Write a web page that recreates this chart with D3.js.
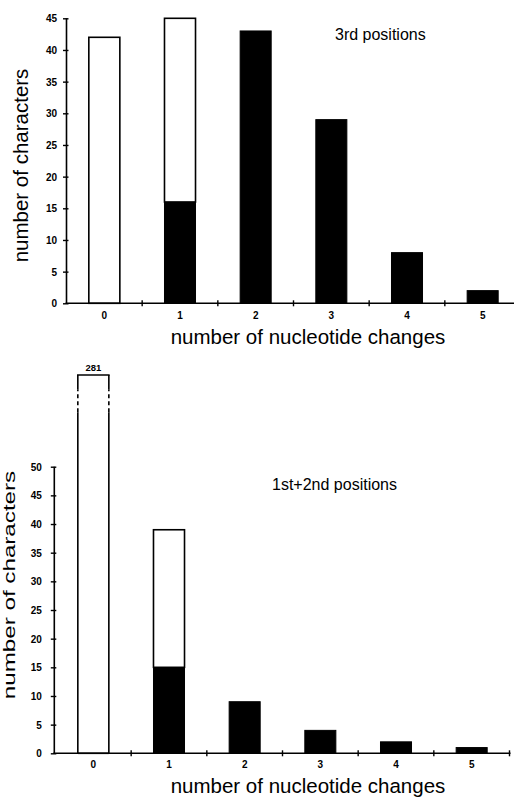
<!DOCTYPE html>
<html>
<head>
<meta charset="utf-8">
<script src="https://cdn.jsdelivr.net/npm/d3@7"></script>
<style>
html,body{margin:0;padding:0;background:#fff;}
svg{display:block;}
text{font-family:"Liberation Sans",Arial,Helvetica,sans-serif;fill:#000;}
.tick text{font-weight:bold;font-size:10px;}
</style>
</head>
<body>
<script>
// ---- data ----
const categories = ["0","1","2","3","4","5"];
const thirdBlack = [0,16,43,29,8,2];
const thirdWhite = [42,29,0,0,0,0];
const thirdTicks = [0,5,10,15,20,25,30,35,40,45];

const firstSecondBlack = [0,15,9,4,2,1];
const firstSecondWhite = [281,24,0,0,0,0];
const firstSecondTicks = [0,5,10,15,20,25,30,35,40,45,50];
// broken bar: shown up to 66 on the axis, with a break between 59.5 and 63.5
const brokenShownTop = 66;
const breakLow = 59.5, breakHigh = 63.5;

const panelTitles = ["3rd positions","1st+2nd positions"];
const xTitle = "number of nucleotide changes";
const yTitle = "number of characters";

const W = 514, H = 799;
const svg = d3.select("body").append("svg").attr("width",W).attr("height",H);

function panel(cfg){
  const g = svg.append("g");
  const x = d3.scaleBand().domain(categories).range(cfg.xRange).padding(0);
  const y = d3.scaleLinear().domain(cfg.yDomain).range(cfg.yRange);
  const bw = x.bandwidth()*0.41;
  const bx = d => x(d) + (x.bandwidth()-bw)/2;

  // bars
  categories.forEach((c,i)=>{
    const b = cfg.black[i], w = cfg.white[i];
    const isBroken = cfg.broken && w > cfg.yDomain[1];
    if (b > 0){
      g.append("rect").attr("x",bx(c)).attr("width",bw)
        .attr("y",y(b)).attr("height",y(0)-y(b))
        .attr("fill","#000").attr("stroke","#000").attr("stroke-width",1);
    }
    if (w > 0 && !isBroken){
      g.append("rect").attr("x",bx(c)).attr("width",bw)
        .attr("y",y(b+w)).attr("height",y(b)-y(b+w))
        .attr("fill","#fff").attr("stroke","#000").attr("stroke-width",1.6);
    }
    if (isBroken){
      const top = cfg.broken.top;
      g.append("rect").attr("x",bx(c)).attr("width",bw)
        .attr("y",y(top)).attr("height",y(0)-y(top)).attr("fill","#fff");
      [bx(c), bx(c)+bw].forEach(xx=>{
        g.append("line").attr("x1",xx).attr("x2",xx).attr("y1",y(0)).attr("y2",y(cfg.broken.low))
          .attr("stroke","#000").attr("stroke-width",1.6);
        g.append("line").attr("x1",xx).attr("x2",xx).attr("y1",y(cfg.broken.low)).attr("y2",y(cfg.broken.high))
          .attr("stroke","#000").attr("stroke-width",1.6).attr("stroke-dasharray","4,3");
        g.append("line").attr("x1",xx).attr("x2",xx).attr("y1",y(cfg.broken.high)).attr("y2",y(top))
          .attr("stroke","#000").attr("stroke-width",1.6);
      });
      g.append("line").attr("x1",bx(c)-0.8).attr("x2",bx(c)+bw+0.8).attr("y1",y(top)).attr("y2",y(top))
        .attr("stroke","#000").attr("stroke-width",1.6);
      g.append("line").attr("x1",bx(c)).attr("x2",bx(c)+bw).attr("y1",y(0)).attr("y2",y(0))
        .attr("stroke","#000").attr("stroke-width",1.6);
      g.append("text").attr("x",bx(c)+bw/2).attr("y",y(top)-4)
        .attr("text-anchor","middle").attr("font-size","9.5px").attr("font-weight","bold")
        .text(w);
    }
  });

  // y axis
  const ya = g.append("g").attr("transform",`translate(${cfg.yAxisX},0)`)
    .call(d3.axisLeft(y).tickValues(cfg.ticks).tickSize(3.5).tickPadding(cfg.yPad).tickFormat(d3.format("d")));
  ya.select(".domain").attr("stroke-width",1.6).attr("d",`M0,${y(cfg.yDomain[0])}V${y(cfg.ticks[cfg.ticks.length-1])}`);
  ya.selectAll(".tick line").attr("x1",2).attr("x2",-3.5).attr("stroke-width",1.4);
  ya.selectAll(".tick text").attr("dy","0.35em");

  // x axis
  const xa = g.append("g").attr("transform",`translate(0,${y(0)})`);
  xa.append("line").attr("x1",cfg.yAxisX-1).attr("x2",Math.min(W,cfg.xRange[1]+1))
    .attr("stroke","#000").attr("stroke-width",1.6);
  categories.forEach(c=>{
    const edge = x(c)+x.bandwidth();
    xa.append("line").attr("x1",edge).attr("x2",edge).attr("y1",-3).attr("y2",3)
      .attr("stroke","#000").attr("stroke-width",1.4);
    xa.append("text").attr("class","tl").attr("x",x(c)+x.bandwidth()/2).attr("y",cfg.xLabelDy)
      .attr("text-anchor","middle").attr("font-size","10px").attr("font-weight","bold").text(c);
  });

  // titles
  g.append("text").attr("x",cfg.xTitlePos[0]).attr("y",cfg.xTitlePos[1])
    .attr("text-anchor","middle").attr("font-size","20.5px").text(xTitle);
  g.append("text")
    .attr("transform",`translate(${cfg.yTitlePos[0]},${cfg.yTitlePos[1]}) rotate(-90) scale(${cfg.yTitleScale[0]},${cfg.yTitleScale[1]})`)
    .attr("text-anchor","middle").attr("font-size","20.5px").text(yTitle);
  g.append("text").attr("x",cfg.panelTitlePos[0]).attr("y",cfg.panelTitlePos[1])
    .attr("font-size","16px").text(cfg.panelTitle);
}

panel({
  black: thirdBlack, white: thirdWhite, ticks: thirdTicks,
  xRange:[66.5,520.5], yDomain:[0,45], yRange:[303.3,18.3],
  yAxisX:66.5, yPad:6, xLabelDy:16,
  xTitlePos:[308,344], yTitlePos:[28,165.5], yTitleScale:[1,1],
  panelTitle: panelTitles[0], panelTitlePos:[335,40]
});

panel({
  black: firstSecondBlack, white: firstSecondWhite, ticks: firstSecondTicks,
  broken:{top:brokenShownTop, low:breakLow, high:breakHigh},
  xRange:[55.5,509.5], yDomain:[0,50], yRange:[753.3,466.7],
  yAxisX:54.3, yPad:9, xLabelDy:14.5,
  xTitlePos:[308,793], yTitlePos:[15,585], yTitleScale:[1.18,0.82],
  panelTitle: panelTitles[1], panelTitlePos:[272,490]
});
</script>
</body>
</html>
